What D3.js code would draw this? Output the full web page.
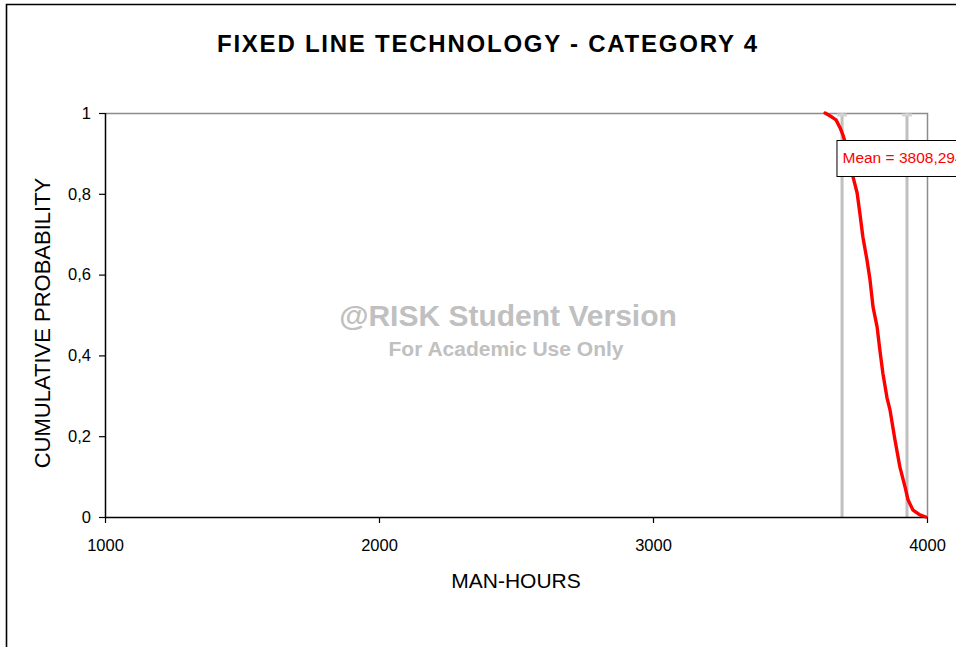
<!DOCTYPE html>
<html>
<head>
<meta charset="utf-8">
<script src="https://cdn.jsdelivr.net/npm/d3@7"></script>
<style>
  html, body { margin: 0; padding: 0; background: #fff; }
  svg { display: block; font-family: "Liberation Sans", Arial, sans-serif; }
</style>
</head>
<body>
<svg id="chart" width="956" height="647"></svg>
<script>
// Man-hours sampled along the descending cumulative curve
const manHours = [3628, 3653, 3668, 3683, 3693, 3701, 3730, 3745, 3755, 3766, 3781, 3792,
  3803, 3818, 3828, 3839, 3854, 3865, 3883, 3901, 3920, 3931, 3949, 3974, 3996];
// Cumulative probability at each of those man-hour values
const cumProb = [1.0, 0.990, 0.983, 0.963, 0.946, 0.928, 0.842, 0.802, 0.752, 0.693, 0.636, 0.587,
  0.520, 0.470, 0.413, 0.356, 0.295, 0.265, 0.191, 0.124, 0.074, 0.042, 0.017, 0.005, 0.0];
// Percentile markers (5% / 95%) and mean
const markers = [3690, 3927];
const meanValue = 3808.294;
const xTicks = [1000, 2000, 3000, 4000];
const yTicks = [0, 0.2, 0.4, 0.6, 0.8, 1];

const title = "FIXED LINE TECHNOLOGY - CATEGORY 4";
const xTitle = "MAN-HOURS";
const yTitle = "CUMULATIVE PROBABILITY";

const svg = d3.select("#chart");
const plot = { left: 105, right: 927, top: 113, bottom: 517 };

const locale = d3.formatLocale({ decimal: ",", thousands: "", grouping: [3], currency: ["", ""] });
const fmtProb = v => v === 0 || v === 1 ? String(v) : locale.format(".1f")(v);

const x = d3.scaleLinear().domain([1000, 4000]).range([plot.left, plot.right]);
const y = d3.scaleLinear().domain([0, 1]).range([plot.bottom, plot.top]);

// Outer chart frame
svg.append("path")
  .attr("d", `M6.5,647 V4.5 H956`)
  .attr("fill", "none").attr("stroke", "#000").attr("stroke-width", 1.6);

// Title
svg.append("text").attr("x", 487).attr("y", 52)
  .attr("text-anchor", "middle").attr("font-size", 24).attr("font-weight", "bold")
  .attr("textLength", 540).attr("lengthAdjust", "spacing")
  .text(title);

// Plot area frame (top and right in grey)
svg.append("path")
  .attr("d", `M${plot.left},${plot.top + 0.5} H${plot.right + 0.5} V${plot.bottom}`)
  .attr("fill", "none").attr("stroke", "#8c8c8c").attr("stroke-width", 1.5);

// Watermark
svg.append("text").attr("x", 508).attr("y", 326)
  .attr("text-anchor", "middle").attr("font-size", 30).attr("font-weight", "bold").attr("fill", "#c0c0c0")
  .text("@RISK Student Version");
svg.append("text").attr("x", 506).attr("y", 356)
  .attr("text-anchor", "middle").attr("font-size", 21).attr("font-weight", "bold").attr("fill", "#c0c0c0")
  .text("For Academic Use Only");

// Percentile marker lines
const mk = svg.append("g");
markers.forEach(m => {
  mk.append("line")
    .attr("x1", x(m)).attr("x2", x(m)).attr("y1", y(1)).attr("y2", y(0))
    .attr("stroke", "#c0c0c0").attr("stroke-width", 3);
  mk.append("line")
    .attr("x1", x(m) - 5).attr("x2", x(m) + 5).attr("y1", y(1) + 2).attr("y2", y(1) + 2)
    .attr("stroke", "#d4d4d4").attr("stroke-width", 3);
});

// Axes
const yAxis = d3.axisLeft(y).tickValues(yTicks).tickFormat(fmtProb).tickSize(6).tickPadding(8);
const xAxis = d3.axisBottom(x).tickValues(xTicks).tickFormat(d3.format("d")).tickSize(6).tickPadding(16);

const gy = svg.append("g").attr("transform", `translate(${plot.left},0)`).call(yAxis);
const gx = svg.append("g").attr("transform", `translate(0,${plot.bottom})`).call(xAxis);
[gx, gy].forEach(g => {
  g.select(".domain").attr("stroke", "#000").attr("stroke-width", 1.5)
    .attr("d", g === gx ? `M${plot.left},0.5H${plot.right}` : `M0.5,${plot.top}V${plot.bottom}`);
  g.selectAll(".tick line").attr("stroke", "#000").attr("stroke-width", 1.2);
  g.selectAll("text").attr("font-size", 16.5).attr("fill", "#000")
    .attr("font-family", "'Liberation Sans', Arial, sans-serif");
});

// Curve
const pts = manHours.map((h, i) => [h, cumProb[i]]);
svg.append("path").datum(pts)
  .attr("fill", "none").attr("stroke", "#ff0000").attr("stroke-width", 3.4)
  .attr("stroke-linejoin", "round").attr("stroke-linecap", "round")
  .attr("d", d3.line().x(d => x(d[0])).y(d => y(d[1])));

// Mean callout
const meanText = "Mean = " + locale.format(".3f")(meanValue);
svg.append("rect").attr("x", x(meanValue) - 37.5).attr("y", 140.5).attr("width", 180).attr("height", 36)
  .attr("fill", "#fff").attr("stroke", "#000").attr("stroke-width", 1);
svg.append("text").attr("x", x(meanValue) - 32).attr("y", 163)
  .attr("font-size", 15.5).attr("fill", "#ff0000").text(meanText);

// Axis titles
svg.append("text").attr("x", 516).attr("y", 588)
  .attr("text-anchor", "middle").attr("font-size", 21).text(xTitle);
svg.append("text").attr("transform", "translate(50,323) rotate(-90)")
  .attr("text-anchor", "middle").attr("font-size", 22).text(yTitle);
</script>
</body>
</html>
